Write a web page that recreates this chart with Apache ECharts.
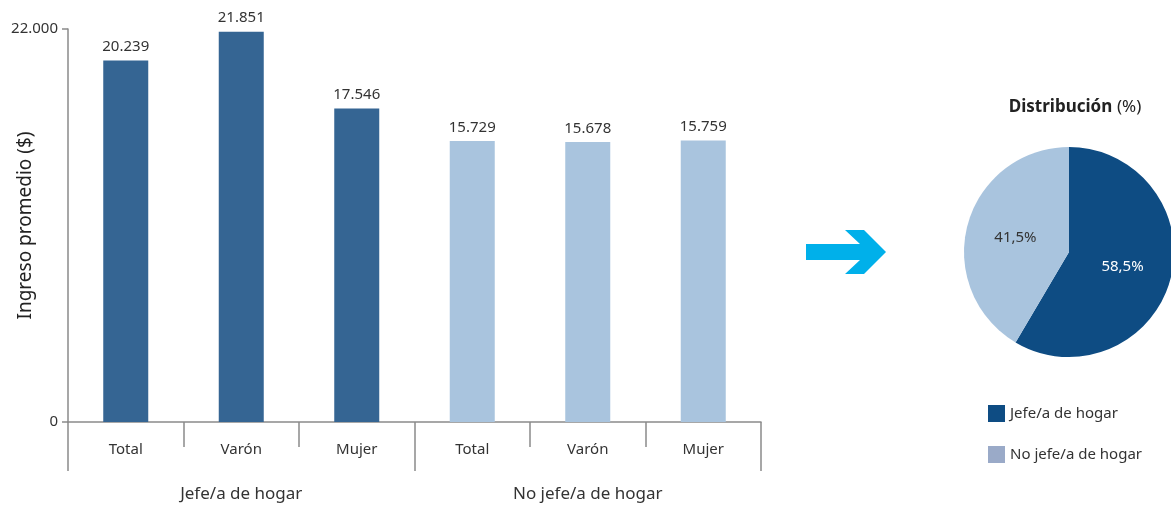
<!DOCTYPE html>
<html>
<head>
<meta charset="utf-8">
<script src="https://cdn.jsdelivr.net/npm/echarts@6/dist/echarts.min.js"></script>
<style>
  html, body { margin: 0; padding: 0; background: #fff; }
  #chart { width: 1171px; height: 513px; }
</style>
</head>
<body>
<div id="chart"></div>
<script>
// datos del grafico
var categorias = ["Total", "Varón", "Mujer", "Total", "Varón", "Mujer"];
var grupos = ["Jefe/a de hogar", "No jefe/a de hogar"];
var ingresos = [20239, 21851, 17546, 15729, 15678, 15759];
var distribucion = [58.5, 41.5]; // jefe/a, no jefe/a
var yMin = 0;
var yMax = 22000;

var colorJefe = "#356593";
var colorNoJefe = "#a9c4de";
var colorPieJefe = "#0e4c83";
var colorLegendNoJefe = "#9aaac8";
var fuente = "Noto Sans";

function miles(v) {
  return String(v).replace(/\B(?=(\d{3})+(?!\d))/g, ".");
}

var chart = echarts.init(document.getElementById("chart"));

var option = {
  backgroundColor: "#fff",
  textStyle: { fontFamily: fuente },
  animation: false,
  title: {
    text: "{b|Distribución} {n|(%)}",
    left: 1070,
    top: 93,
    textAlign: "center",
    textStyle: {
      rich: {
        b: { fontFamily: fuente, fontWeight: "bold", fontSize: 17, color: "#222" },
        n: { fontFamily: fuente, fontWeight: "normal", fontSize: 17, color: "#222" }
      }
    }
  },
  legend: {
    orient: "vertical",
    left: 983,
    top: 400,
    itemWidth: 17,
    itemHeight: 17,
    itemGap: 24,
    icon: "rect",
    textStyle: { fontFamily: fuente, fontSize: 15, color: "#333" },
    data: [
      { name: grupos[0], itemStyle: { color: colorPieJefe } },
      { name: grupos[1], itemStyle: { color: colorLegendNoJefe } }
    ]
  },
  grid: { left: 68, right: 410, top: 29, bottom: 91, containLabel: false, outerBoundsMode: "none" },
  xAxis: [
    {
      type: "category",
      data: categorias,
      position: "bottom",
      axisLine: { lineStyle: { color: "#8a8a8a", width: 1.5 } },
      axisTick: { show: true, interval: 0, length: 25, lineStyle: { color: "#8a8a8a", width: 1.5 } },
      axisLabel: { interval: 0, margin: 20, fontSize: 15, color: "#333", fontFamily: fuente }
    },
    {
      type: "category",
      data: grupos,
      position: "bottom",
      axisLine: { show: false },
      axisTick: { show: true, interval: 0, length: 49, lineStyle: { color: "#8a8a8a", width: 1.5 } },
      axisLabel: { interval: 0, margin: 64, fontSize: 17, color: "#333", fontFamily: fuente }
    }
  ],
  yAxis: {
    type: "value",
    min: yMin,
    max: yMax,
    interval: 22000,
    name: "Ingreso promedio ($)",
    nameLocation: "middle",
    nameGap: 33,
    nameMoveOverlap: false,
    nameTextStyle: { fontSize: 19, color: "#222", fontFamily: fuente },
    axisLine: { show: true, lineStyle: { color: "#8a8a8a", width: 1.5 } },
    axisTick: { show: true, length: 6, lineStyle: { color: "#8a8a8a", width: 1.5 } },
    splitLine: { show: false },
    axisLabel: {
      fontSize: 15,
      color: "#333",
      margin: 10,
      fontFamily: fuente,
      formatter: function (v) { return miles(v); }
    }
  },
  series: [
    {
      type: "bar",
      xAxisIndex: 0,
      barWidth: 45,
      data: ingresos.map(function (v, i) {
        return { value: v, itemStyle: { color: i < 3 ? colorJefe : colorNoJefe } };
      }),
      label: {
        show: true,
        position: "top",
        distance: 6,
        fontSize: 15,
        color: "#333",
        fontFamily: fuente,
        formatter: function (p) { return miles(p.value); }
      }
    },
    {
      type: "pie",
      center: [1069, 252],
      radius: 105,
      startAngle: 90,
      clockwise: true,
      silent: true,
      label: {
        show: true,
        position: "inside",
        fontSize: 15,
        fontFamily: fuente,
        formatter: function (p) { return p.value.toFixed(1).replace(".", ",") + "%"; }
      },
      labelLine: { show: false },
      data: [
        { name: grupos[0], value: distribucion[0], itemStyle: { color: colorPieJefe }, label: { color: "#fff" } },
        { name: grupos[1], value: distribucion[1], itemStyle: { color: colorNoJefe }, label: { color: "#333" } }
      ]
    }
  ],
  graphic: [
    {
      type: "polygon",
      shape: {
        points: [[806, 244], [860, 244], [845, 230], [864, 230], [886, 252], [864, 274], [845, 274], [860, 260], [806, 260]]
      },
      style: { fill: "#00b0ea" }
    }
  ]
};

chart.setOption(option);
</script>
</body>
</html>
